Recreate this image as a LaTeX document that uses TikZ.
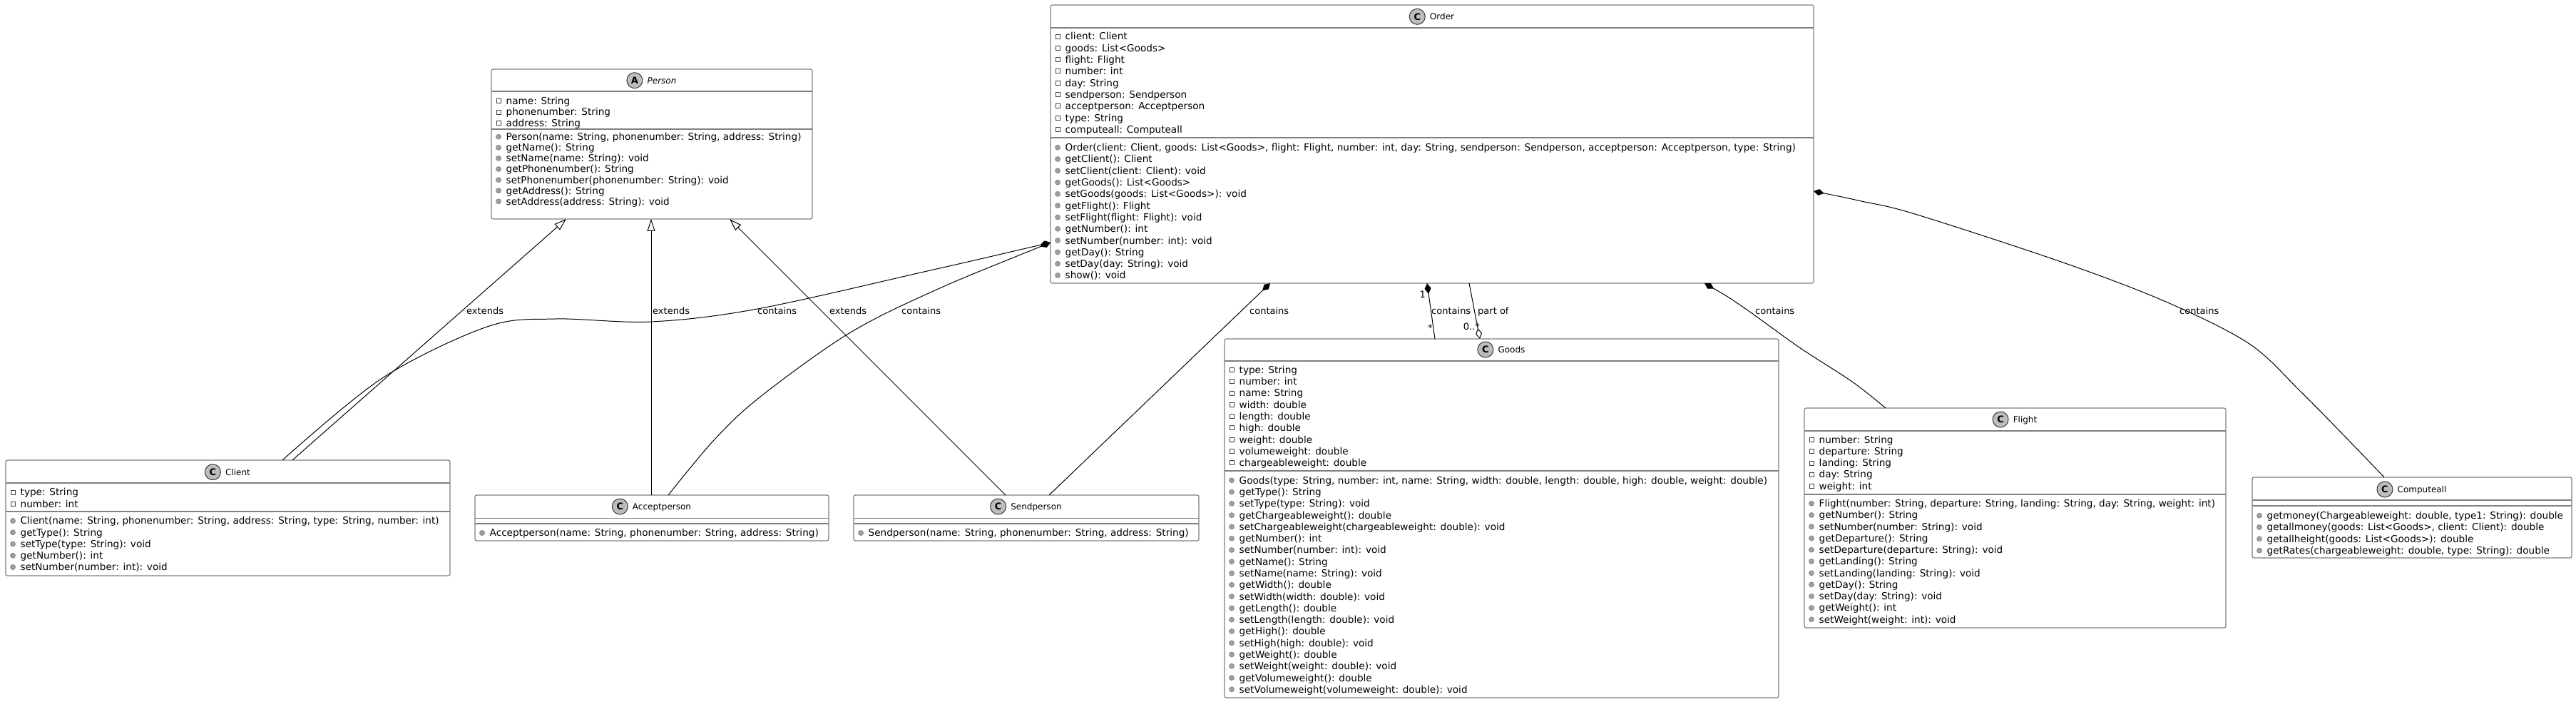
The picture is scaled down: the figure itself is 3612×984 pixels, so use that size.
\documentclass[tikz,border=0pt]{standalone}
\usepackage{fontspec}
\setmainfont{DejaVu Sans}
\usetikzlibrary{arrows.meta,calc}
\definecolor{bord}{HTML}{808080}
\definecolor{iconfill}{HTML}{BDBDBD}
\definecolor{icondraw}{HTML}{383838}
\definecolor{privc}{HTML}{404040}
\definecolor{pubf}{HTML}{A0A0A0}
\definecolor{pubd}{HTML}{787878}
\tikzset{
  ubox/.style={draw=bord, line width=1.2pt, rounded corners=2.5pt, fill=white, inner sep=0pt, outer sep=0pt},
  usep/.style={draw=bord, line width=1.2pt},
  utitle/.style={font=\fontsize{12}{14}\selectfont, inner sep=0pt, text height=8.8pt, text depth=0pt},
  cicon/.style={circle, draw=icondraw, fill=iconfill, line width=1pt, minimum size=22pt, inner sep=0pt, font=\fontsize{13}{13}\selectfont\bfseries},
  member/.style={anchor=west, font=\fontsize{13.6}{16}\selectfont, inner sep=0pt, text height=9.9pt, text depth=0pt},
  priv/.style={rectangle, draw=privc, line width=0.8pt, minimum size=6pt, inner sep=0pt},
  pub/.style={circle, fill=pubf, draw=pubd, line width=0.6pt, minimum size=7pt, inner sep=0pt},
  lbl/.style={font=\fontsize{13}{15}\selectfont, inner sep=0pt, text height=9.5pt, text depth=0pt, anchor=west},
  conn/.style={draw=black, line width=1pt},
  comp/.style={conn, {Diamond[length=15pt,width=9pt]}-},
  agg/.style={conn, -{Diamond[open,length=15pt,width=9pt]}},
  ext/.style={conn, -{Triangle[open,length=17pt,width=11pt]}},
}
% box: name L T R B H S
\newcommand\ubox[7]{%
  \node[ubox, minimum width={#4-#2}, minimum height={#5-#3}, anchor=north west] (#1) at (#2,#3) {};
  \draw[usep] (#1.west |- 0,#6) -- (#1.east |- 0,#6);
  \draw[usep] (#1.west |- 0,#7) -- (#1.east |- 0,#7);}
% title: name letter text ycenter
\newcommand\utitle[4]{%
  \node[utitle] (#1-n) at ($(#1.north |- 0,#4)+(14,0)$) {#3};
  \node[cicon, anchor=east] (#1-c) at ([xshift=-6pt]#1-n.west) {#2};}
% rows: prefix L yfirst spacing iconstyle list
\newcommand\mrows[6]{%
  \foreach \mtxt [count=\i from 0] in {#6} {%
    \node[#5] (#1\i i) at (#2+10, #3+\i*#4) {};
    \node[member] (#1\i) at (#2+20.5, #3+\i*#4) {\mtxt};
  }}
\begin{document}
\begin{tikzpicture}[x=1pt,y=-1pt]
\path[use as bounding box, fill=white] (0,0) rectangle (3612,984);

% ---------- Person
\ubox{person}{689}{97}{1139}{307}{128}{181}
\utitle{person}{A}{\itshape Person}{112.7}
\mrows{pa}{689}{141.7}{15.3}{priv}{{name: String},{phonenumber: String},{address: String}}
\mrows{pm}{689}{191.7}{15.1}{pub}{{Person(name: String, phonenumber: String, address: String)},{getName(): String},{setName(name: String): void},{getPhonenumber(): String},{setPhonenumber(phonenumber: String): void},{getAddress(): String},{setAddress(address: String): void}}

% ---------- Order
\ubox{order}{1473}{7}{2543}{397}{39}{193}
\utitle{order}{C}{Order}{23.3}
\mrows{oa}{1473}{51}{16.3}{priv}{{client: Client},{goods: List<Goods>},{flight: Flight},{number: int},{day: String},{sendperson: Sendperson},{acceptperson: Acceptperson},{type: String},{computeall: Computeall}}
\mrows{om}{1473}{206.7}{16.3}{pub}{{Order(client: Client, goods: List<Goods>, flight: Flight, number: int, day: String, sendperson: Sendperson, acceptperson: Acceptperson, type: String)},{getClient(): Client},{setClient(client: Client): void},{getGoods(): List<Goods>},{setGoods(goods: List<Goods>): void},{getFlight(): Flight},{setFlight(flight: Flight): void},{getNumber(): int},{setNumber(number: int): void},{getDay(): String},{setDay(day: String): void},{show(): void}}

% ---------- Client
\ubox{client}{8}{645}{631}{807}{677}{717}
\utitle{client}{C}{Client}{661.7}
\mrows{ca}{8}{690}{16.5}{priv}{{type: String},{number: int}}
\mrows{cm}{8}{730}{16.25}{pub}{{Client(name: String, phonenumber: String, address: String, type: String, number: int)},{getType(): String},{setType(type: String): void},{getNumber(): int},{setNumber(number: int): void}}

% ---------- Acceptperson
\ubox{accept}{666}{694}{1162}{758}{726.5}{734}
\utitle{accept}{C}{Acceptperson}{710}
\mrows{am}{666}{747}{16.3}{pub}{{Acceptperson(name: String, phonenumber: String, address: String)}}

% ---------- Sendperson
\ubox{send}{1197}{694}{1681}{758}{726.5}{734}
\utitle{send}{C}{Sendperson}{710}
\mrows{sm}{1197}{747}{16.3}{pub}{{Sendperson(name: String, phonenumber: String, address: String)}}

% ---------- Goods
\ubox{goods}{1717}{475}{2494}{978}{506}{660}
\utitle{goods}{C}{Goods}{490}
\mrows{ga}{1717}{518.3}{16.3}{priv}{{type: String},{number: int},{name: String},{width: double},{length: double},{high: double},{weight: double},{volumeweight: double},{chargeableweight: double}}
\mrows{gm}{1717}{673.3}{16.28}{pub}{{Goods(type: String, number: int, name: String, width: double, length: double, high: double, weight: double)},{getType(): String},{setType(type: String): void},{getChargeableweight(): double},{setChargeableweight(chargeableweight: double): void},{getNumber(): int},{setNumber(number: int): void},{getName(): String},{setName(name: String): void},{getWidth(): double},{setWidth(width: double): void},{getLength(): double},{setLength(length: double): void},{getHigh(): double},{setHigh(high: double): void},{getWeight(): double},{setWeight(weight: double): void},{getVolumeweight(): double},{setVolumeweight(volumeweight: double): void}}

% ---------- Flight
\ubox{flight}{2530}{572}{3121}{880}{604}{693}
\utitle{flight}{C}{Flight}{588}
\mrows{fa}{2530}{616.7}{16.1}{priv}{{number: String},{departure: String},{landing: String},{day: String},{weight: int}}
\mrows{fm}{2530}{705.7}{16.26}{pub}{{Flight(number: String, departure: String, landing: String, day: String, weight: int)},{getNumber(): String},{setNumber(number: String): void},{getDeparture(): String},{setDeparture(departure: String): void},{getLanding(): String},{setLanding(landing: String): void},{getDay(): String},{setDay(day: String): void},{getWeight(): int},{setWeight(weight: int): void}}

% ---------- Computeall
\ubox{compute}{3158}{669}{3606}{782}{701}{709}
\utitle{compute}{C}{Computeall}{686}
\mrows{xm}{3158}{722.7}{16.3}{pub}{{getmoney(Chargeableweight: double, type1: String): double},{getallmoney(goods: List<Goods>, client: Client): double},{getallheight(goods: List<Goods>): double},{getRates(chargeableweight: double, type: String): double}}

% ---------- connectors
\draw[ext] (410,0 |- client.north) -- (794,0 |- person.south);
\draw[ext] (913,0 |- accept.north) -- (913,0 |- person.south);
\draw[ext] (1410,0 |- send.north) -- (1023,0 |- person.south);

\draw[comp] plot[smooth, tension=0.55] coordinates {(order.west |- 0,340) (1300,380) (1062,433) (913,451) (778,447) (683,458) (536,530) (396,0 |- client.north)};
\draw[comp] plot[smooth, tension=0.55] coordinates {(order.west |- 0,340) (1300,412) (1186,470) (1065,557) (1001,617) (937,0 |- accept.north)};
\draw[comp] (1781,0 |- order.south) -- (1471,0 |- send.north);
\draw[comp] (2001,0 |- order.south) -- (2012,0 |- goods.north);
\draw[agg] (2060,0 |- order.south) -- (2075,0 |- goods.north);
\draw[comp] plot[smooth, tension=0.55] coordinates {(2390,0 |- order.south) (2442,429) (2523,487) (2597,535) (2644,0 |- flight.north)};
\draw[comp] plot[smooth, tension=0.55] coordinates {(order.east |- 0,268) (2610,282) (2685,300) (2890,367) (3037,423) (3154,482) (3227,550) (3293,617) (3343,0 |- compute.north)};

% ---------- labels
\node[lbl] (l1) at (654,436) {extends};
\node[lbl] (l2) at (915,436) {extends};
\node[lbl] (l3) at (1062,436) {contains};
\node[lbl] (l4) at (1163,436) {extends};
\node[lbl] (l5) at (1264,436) {contains};
\node[lbl] (l6) at (1752,436) {contains};
\node[lbl] (l7) at (2007,436) {contains};
\node[lbl] (l8) at (2072,436) {part of};
\node[lbl] (l9) at (2461,436) {contains};
\node[lbl] (l10) at (3056,436) {contains};
\node[lbl, anchor=east] (m1) at (1999,413) {1};
\node[lbl] (m2) at (2002,460) {*};
\node[lbl, anchor=east] (m3) at (2075,458) {0..*};
\end{tikzpicture}
\end{document}
